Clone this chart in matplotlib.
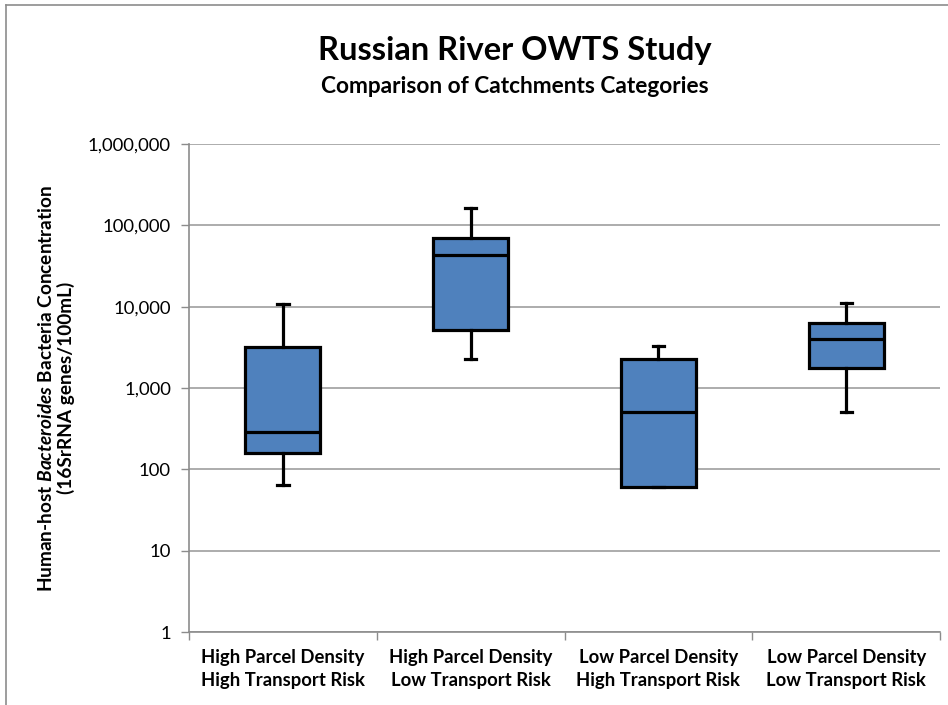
import matplotlib
matplotlib.use("Agg")
import matplotlib.pyplot as plt
from matplotlib.ticker import FixedLocator, FuncFormatter

plt.rcParams["font.family"] = ["Lato", "DejaVu Sans"]
plt.rcParams["mathtext.fontset"] = "custom"
plt.rcParams["mathtext.it"] = "Lato:italic:bold"
plt.rcParams["mathtext.rm"] = "Lato:bold"

categories = ["High Parcel Density\nHigh Transport Risk",
              "High Parcel Density\nLow Transport Risk",
              "Low Parcel Density\nHigh Transport Risk",
              "Low Parcel Density\nLow Transport Risk"]
whisker_low = [64, 2260, 60, 510]
q1 = [161, 5140, 60, 1755]
median = [292, 43300, 514, 4020]
q3 = [3210, 70600, 2265, 6270]
whisker_high = [10700, 162000, 3330, 11200]

stats = []
for i in range(len(categories)):
    stats.append({"whislo": whisker_low[i], "q1": q1[i], "med": median[i],
                  "q3": q3[i], "whishi": whisker_high[i], "fliers": []})

fig = plt.figure(figsize=(9.48, 7.05), dpi=100)
ax = fig.add_axes([0.1994, 0.1035, 0.7922, 0.6922])

ax.bxp(stats, positions=[1, 2, 3, 4], widths=0.4, patch_artist=True,
       showfliers=False,
       boxprops=dict(facecolor="#4F81BD", edgecolor="black", linewidth=2.3),
       medianprops=dict(color="black", linewidth=2.3),
       whiskerprops=dict(color="black", linewidth=2.3),
       capprops=dict(color="black", linewidth=2.3),
       capwidths=0.06, zorder=3)

ax.set_yscale("log")
ax.set_ylim(1, 1e6)
ax.set_xlim(0.5, 4.5)
ax.yaxis.set_major_locator(FixedLocator([1, 10, 100, 1e3, 1e4, 1e5, 1e6]))
ax.yaxis.set_minor_locator(FixedLocator([]))
ax.yaxis.set_major_formatter(FuncFormatter(lambda v, p: f"{int(round(v)):,}"))
ax.grid(axis="y", color="#A6A6A6", linewidth=1.3, zorder=0)

ax.set_xticks([1, 2, 3, 4])
ax.set_xticklabels(categories, fontsize=13.3, fontweight="bold", linespacing=1.45)
ax.xaxis.set_minor_locator(FixedLocator([0.5, 1.5, 2.5, 3.5, 4.5]))
ax.tick_params(axis="x", which="major", length=0, pad=12)
ax.tick_params(axis="x", which="minor", length=6, color="#8C8C8C", width=1)
ax.tick_params(axis="y", length=6, color="#8C8C8C", width=1, labelsize=13.3, pad=7)

for s in ["top", "right"]:
    ax.spines[s].set_visible(False)
for s in ["left", "bottom"]:
    ax.spines[s].set_color("#8C8C8C")
    ax.spines[s].set_linewidth(1.2)

ax.set_ylabel("Human-host $Bacteroides$ Bacteria Concentration\n(16SrRNA genes/100mL)",
              fontsize=13.7, fontweight="bold", linespacing=1.15)
ax.yaxis.set_label_coords(-0.152, 0.5)

fig.text(0.543, 0.929, "Russian River OWTS Study", ha="center", va="center",
         fontsize=23.5, fontweight="bold")
fig.text(0.543, 0.877, "Comparison of Catchments Categories", ha="center", va="center",
         fontsize=16.3, fontweight="bold")

# chart frame
fig.add_artist(plt.Line2D([0.006, 0.006], [0, 0.993], color="#8C8C8C", linewidth=1.2))
fig.add_artist(plt.Line2D([0.006, 1.0], [0.993, 0.993], color="#8C8C8C", linewidth=1.2))

fig.savefig("out.png", dpi=100)
